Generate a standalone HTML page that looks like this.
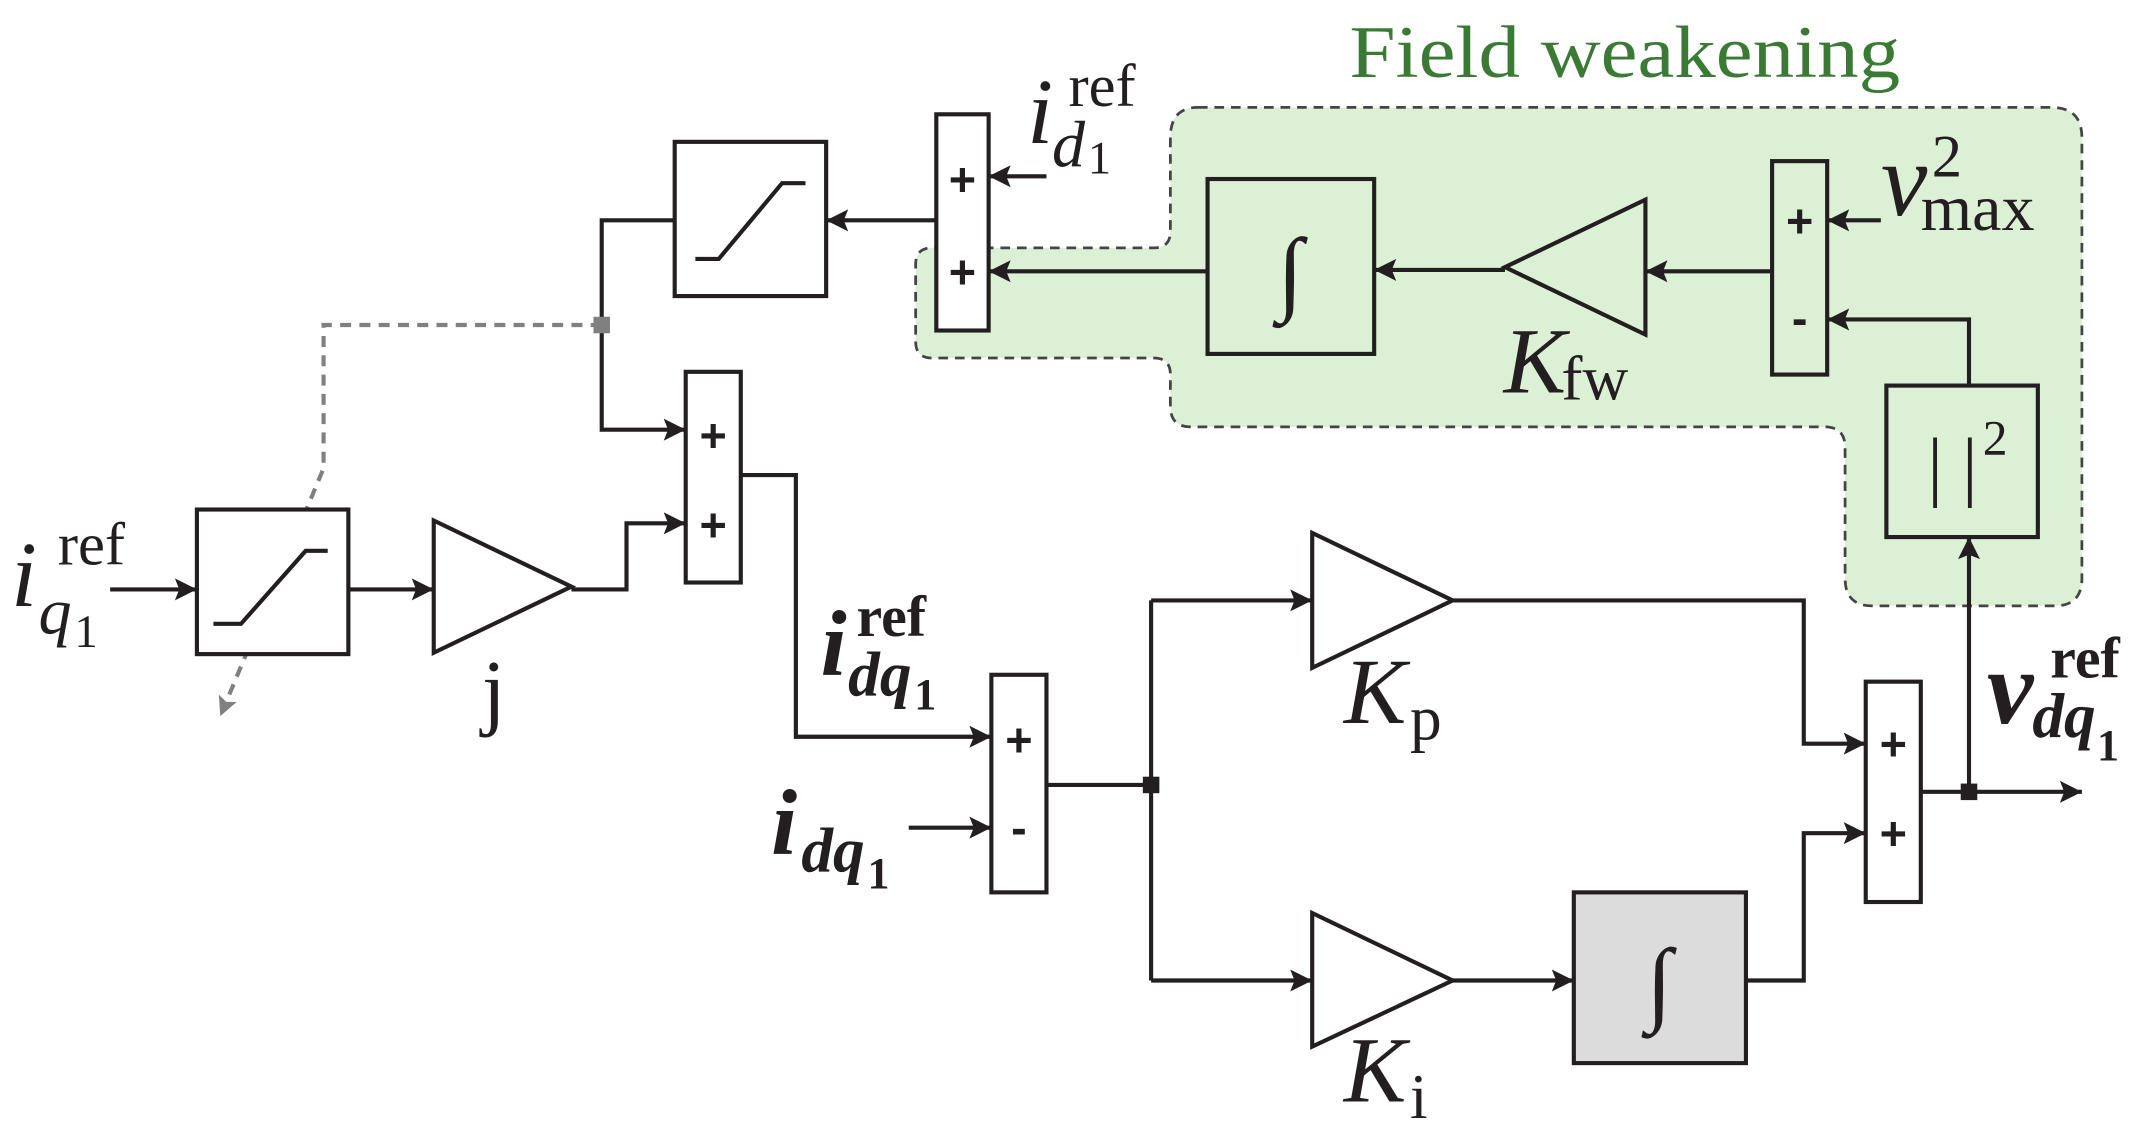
<!DOCTYPE html>
<html><head><meta charset="utf-8"><style>
html,body{margin:0;padding:0;background:#fff;}
svg{display:block;}
text{font-family:"Liberation Serif",serif;fill:#231f20;}
.op{font-family:"Liberation Sans",sans-serif;font-weight:bold;font-size:34px;text-anchor:middle;}
.it{font-style:italic;}
.b{font-weight:bold;}
</style></head><body>
<svg width="2148" height="1143" viewBox="0 0 1560 830" preserveAspectRatio="none" xmlns="http://www.w3.org/2000/svg">
<defs>
<marker id="A" viewBox="0 0 10 10" markerWidth="20" markerHeight="16" refX="10" refY="5" orient="auto" markerUnits="userSpaceOnUse"><path d="M0,0 L10,5 L0,10 L2,5 Z" fill="#231f20"/></marker>
<marker id="G" viewBox="0 0 10 10" markerWidth="16" markerHeight="14" refX="10" refY="5" orient="auto" markerUnits="userSpaceOnUse"><path d="M0,0 L10,5 L0,10 L2,5 Z" fill="#808080"/></marker>
</defs>
<path d="M870,78 L1490,78 Q1512,78 1512,100 L1512,420 Q1512,440 1492,440 L1360,440 Q1340,440 1340,420 L1340,325 Q1340,310 1325,310 L865,310 Q850,310 850,295 L850,272 Q850,260 838,260 L677,260 Q665,260 665,248 L665,192 Q665,180 677,180 L838,180 Q850,180 850,168 L850,100 Q850,78 870,78 Z" fill="#dcf0d5" stroke="#444" stroke-width="2" stroke-dasharray="7,5"/>
<text x="980" y="56" font-size="54" textLength="400" lengthAdjust="spacingAndGlyphs" style="fill:#3a7a35">Field weakening</text>

<g fill="none" stroke="#231f20" stroke-width="3">
<path d="M80,428 H143" marker-end="url(#A)"/>
<path d="M253,428 H315" marker-end="url(#A)"/>
<path d="M415,428 H455 V380 H498" marker-end="url(#A)"/>
<path d="M490,160 H437 V312 H498" marker-end="url(#A)"/>
<path d="M680,160 H600" marker-end="url(#A)"/>
<path d="M760,128 H718" marker-end="url(#A)"/>
<path d="M877,197 H718" marker-end="url(#A)"/>
<path d="M1093,196 H998" marker-end="url(#A)"/>
<path d="M1287,197 H1195" marker-end="url(#A)"/>
<path d="M1366,160 H1327" marker-end="url(#A)"/>
<path d="M1430,280 V232 H1327" marker-end="url(#A)"/>
<path d="M538,345 H578 V535 H720" marker-end="url(#A)"/>
<path d="M660,601 H720" marker-end="url(#A)"/>
<path d="M760,570 H836"/>
<path d="M836,436 V712"/>
<path d="M836,436 H953" marker-end="url(#A)"/>
<path d="M836,712 H953" marker-end="url(#A)"/>
<path d="M1055,436 H1310 V540 H1355" marker-end="url(#A)"/>
<path d="M1055,712 H1143" marker-end="url(#A)"/>
<path d="M1268,712 H1310 V605 H1355" marker-end="url(#A)"/>
<path d="M1395,575 H1512" marker-end="url(#A)"/>
<path d="M1430,575 V390" marker-end="url(#A)"/>
</g>
<path d="M437,236 H235 V340 L160,520" fill="none" stroke="#808080" stroke-width="3" stroke-dasharray="8,6" marker-end="url(#G)"/>
<rect x="431" y="230" width="12" height="12" fill="#808080"/>
<rect x="830" y="564" width="12" height="12" fill="#231f20"/>
<rect x="1424" y="569" width="12" height="12" fill="#231f20"/>

<g stroke="#231f20" stroke-width="3">
<rect x="143" y="370" width="110" height="105" fill="#fff"/>
<rect x="490" y="103" width="110" height="112" fill="#fff"/>
<rect x="498" y="270" width="40" height="153" fill="#fff"/>
<rect x="680" y="83" width="38" height="157" fill="#fff"/>
<rect x="877" y="130" width="121" height="127" fill="#dcf0d5"/>
<rect x="1287" y="117" width="40" height="155" fill="#dcf0d5"/>
<rect x="1370" y="280" width="110" height="110" fill="#dcf0d5"/>
<rect x="720" y="490" width="40" height="158" fill="#fff"/>
<rect x="1143" y="648" width="125" height="124" fill="#dcdcdc"/>
<rect x="1355" y="495" width="40" height="160" fill="#fff"/>
<polygon points="315,378 315,474 415,426" fill="#fff"/>
<polygon points="1195,145 1195,243 1093,194" fill="#dcf0d5"/>
<polygon points="953,387 953,485 1055,436" fill="#fff"/>
<polygon points="953,663 953,760 1055,712" fill="#fff"/>
<polyline points="155,453 175,453 222,400 238,400" fill="none"/>
<polyline points="505,188 522,188 568,133 585,133" fill="none"/>
</g>

<text class="op" x="518" y="328">+</text>
<text class="op" x="518" y="393">+</text>
<text class="op" x="699" y="142">+</text>
<text class="op" x="699" y="209">+</text>
<text class="op" x="1307" y="172">+</text>
<text class="op" x="1307" y="243">-</text>
<text class="op" x="740" y="549">+</text>
<text class="op" x="740" y="613">-</text>
<text class="op" x="1375" y="552">+</text>
<text class="op" x="1375" y="617">+</text>

<text x="937" y="220" font-size="68" text-anchor="middle">∫</text>
<text x="1205" y="736" font-size="68" text-anchor="middle">∫</text>
<text x="1418" y="357" font-size="56" text-anchor="middle">| |</text>
<text x="1440" y="330" font-size="36">2</text>

<text x="350" y="522" font-size="62">j</text>

<text class="it" x="976" y="525" font-size="68">K</text><text x="1024" y="537" font-size="46">p</text>
<text class="it" x="976" y="800" font-size="68">K</text><text x="1024" y="812" font-size="46">i</text>
<text class="it" x="1092" y="285" font-size="68">K</text><text x="1134" y="290" font-size="46">fw</text>

<text class="it" x="1366" y="156" font-size="76">v</text>
<text x="1403" y="128" font-size="44">2</text>
<text x="1395" y="167" font-size="48">max</text>

<text class="it" x="746" y="104" font-size="68">i</text>
<text x="776" y="77" font-size="44">ref</text>
<text class="it" x="764" y="121" font-size="48">d</text>
<text x="790" y="126" font-size="34">1</text>

<text class="it" x="8" y="440" font-size="68">i</text>
<text x="42" y="410" font-size="44">ref</text>
<text class="it" x="28" y="460" font-size="48">q</text>
<text x="54" y="470" font-size="34">1</text>

<text class="it b" x="596" y="490" font-size="68">i</text>
<text class="b" x="622" y="462" font-size="42">ref</text>
<text class="it b" x="616" y="505" font-size="46">dq</text>
<text class="b" x="664" y="515" font-size="32">1</text>

<text class="it b" x="560" y="620" font-size="68">i</text>
<text class="it b" x="582" y="633" font-size="46">dq</text>
<text class="b" x="630" y="645" font-size="32">1</text>

<text class="it b" x="1443" y="525" font-size="76">v</text>
<text class="b" x="1489" y="492" font-size="42">ref</text>
<text class="it b" x="1476" y="535" font-size="46">dq</text>
<text class="b" x="1523" y="552" font-size="32">1</text>
</svg>
</body></html>
